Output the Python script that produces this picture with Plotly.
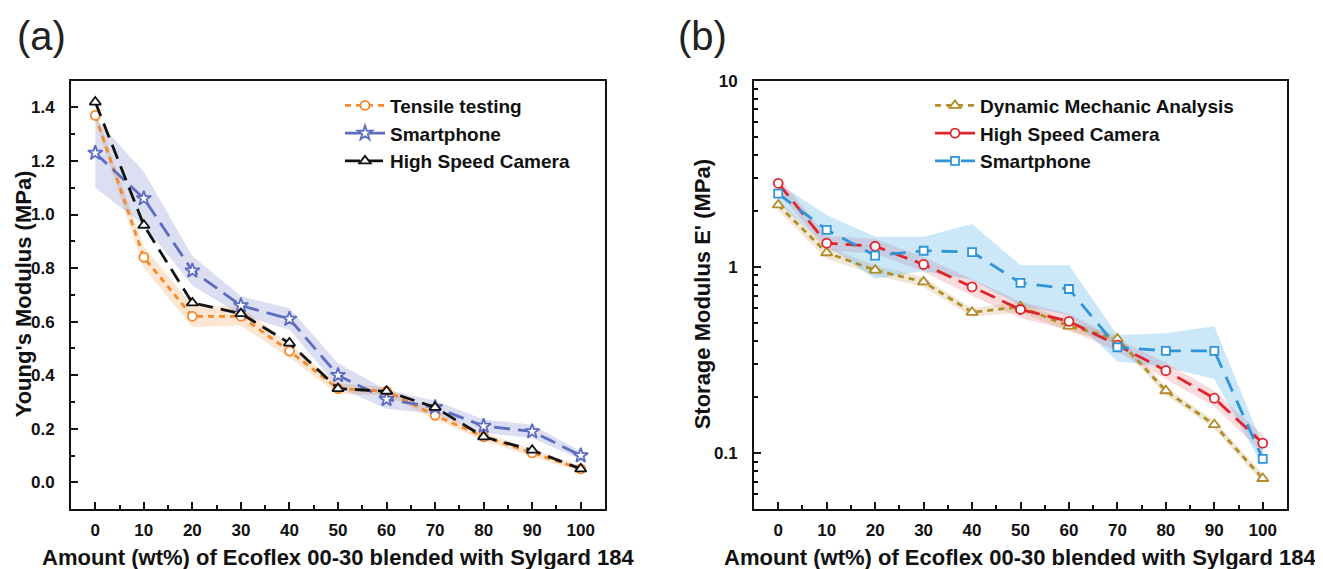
import plotly.graph_objects as go

# ---------------- data ----------------
x_wt = [0, 10, 20, 30, 40, 50, 60, 70, 80, 90, 100]

# panel (a) Young's modulus (MPa)
tensile = [1.37, 0.84, 0.62, 0.62, 0.49, 0.35, 0.34, 0.25, 0.17, 0.11, 0.05]
tensile_err = [0.02, 0.04, 0.04, 0.035, 0.025, 0.02, 0.015, 0.015, 0.015, 0.015, 0.01]
phone_a = [1.23, 1.06, 0.79, 0.66, 0.61, 0.40, 0.31, 0.28, 0.21, 0.19, 0.10]
phone_a_err = [0.13, 0.10, 0.055, 0.035, 0.04, 0.045, 0.035, 0.025, 0.025, 0.025, 0.015]
hsc_a = [1.42, 0.96, 0.67, 0.63, 0.52, 0.35, 0.34, 0.28, 0.17, 0.12, 0.05]

# panel (b) storage modulus E' (MPa)
dma = [2.15, 1.19, 0.96, 0.83, 0.57, 0.61, 0.48, 0.41, 0.216, 0.142, 0.073]
dma_lo = [2.0, 1.10, 0.90, 0.78, 0.54, 0.57, 0.45, 0.39, 0.205, 0.135, 0.069]
dma_hi = [2.30, 1.28, 1.02, 0.88, 0.60, 0.65, 0.51, 0.43, 0.227, 0.149, 0.077]
hsc_b = [2.81, 1.34, 1.29, 1.03, 0.78, 0.59, 0.51, 0.38, 0.277, 0.197, 0.113]
hsc_b_lo = [2.55, 1.22, 1.18, 0.94, 0.70, 0.53, 0.46, 0.35, 0.25, 0.178, 0.100]
hsc_b_hi = [3.05, 1.47, 1.41, 1.13, 0.86, 0.65, 0.56, 0.41, 0.305, 0.216, 0.125]
phone_b = [2.47, 1.58, 1.15, 1.22, 1.20, 0.82, 0.76, 0.37, 0.354, 0.354, 0.093]
phone_b_lo = [2.20, 1.30, 0.86, 0.95, 0.85, 0.62, 0.55, 0.31, 0.29, 0.25, 0.085]
phone_b_hi = [2.80, 1.90, 1.45, 1.45, 1.70, 1.02, 1.02, 0.43, 0.44, 0.48, 0.11]

x_ticks = [0, 10, 20, 30, 40, 50, 60, 70, 80, 90, 100]
ya_ticks = [0.0, 0.2, 0.4, 0.6, 0.8, 1.0, 1.2, 1.4]
yb_ticks = [0.1, 1, 10]
yb_text = ["0.1", "1", "10"]

# ---------------- styles ----------------
FONT = "Arial, Liberation Sans, sans-serif"
W, H = 1323, 569


def px(x):
    return (x - 8) / W


def py(y):
    fy = (y - 12) / 0.99
    return (H - fy) / H


C_TEN = "#f38a2c"
C_PHA = "#5d6cc0"
C_BLK = "#111111"
C_DMA = "#b38b2a"
C_HSC = "#e0242c"
C_PHB = "#2f95d8"

fig = go.Figure()


def band(x, lo, hi, color, xa, ya):
    fig.add_trace(go.Scatter(
        x=list(x) + list(x)[::-1], y=list(hi) + list(lo)[::-1],
        fill="toself", fillcolor=color, line=dict(width=0),
        mode="lines", hoverinfo="skip", showlegend=False, xaxis=xa, yaxis=ya))


def series(x, y, name, color, dash, symbol, xa, ya, legend, msize=9):
    fig.add_trace(go.Scatter(
        x=x, y=y, name=name, mode="lines+markers",
        line=dict(color=color, width=2.8, dash=dash),
        marker=dict(symbol=symbol, size=msize, color="white",
                    line=dict(color=color, width=1.8)),
        xaxis=xa, yaxis=ya, legend=legend))


# panel (a) bands
band(x_wt, [v - e for v, e in zip(tensile, tensile_err)],
     [v + e for v, e in zip(tensile, tensile_err)], "rgba(243,140,50,0.22)", "x", "y")
band(x_wt, [v - e for v, e in zip(phone_a, phone_a_err)],
     [v + e for v, e in zip(phone_a, phone_a_err)], "rgba(93,108,192,0.22)", "x", "y")
series(x_wt, tensile, "Tensile testing", C_TEN, "6px,5px", "circle", "x", "y", "legend")
series(x_wt, phone_a, "Smartphone", C_PHA, "16px,8px", "star", "x", "y", "legend", 11)
series(x_wt, hsc_a, "High Speed Camera", C_BLK, "15px,8px", "triangle-up", "x", "y", "legend", 10)

# panel (b) bands
band(x_wt, dma_lo, dma_hi, "rgba(180,140,45,0.20)", "x2", "y2")
band(x_wt, hsc_b_lo, hsc_b_hi, "rgba(230,60,70,0.18)", "x2", "y2")
band(x_wt, phone_b_lo, phone_b_hi, "rgba(70,170,230,0.28)", "x2", "y2")
series(x_wt, dma, "Dynamic Mechanic Analysis", C_DMA, "6px,5px", "triangle-up", "x2", "y2", "legend2", 10)
series(x_wt, hsc_b, "High Speed Camera", C_HSC, "16px,8px", "circle", "x2", "y2", "legend2")
series(x_wt, phone_b, "Smartphone", C_PHB, "16px,10px", "square", "x2", "y2", "legend2", 8)

tickfont = dict(family=FONT, size=17, color="#111", weight="bold")
axis_common = dict(showline=True, linewidth=2, linecolor="#111", mirror=True,
                   ticks="inside", ticklen=7, tickwidth=2, tickcolor="#111",
                   showgrid=False, zeroline=False, tickfont=tickfont)
minor_common = dict(ticks="inside", ticklen=4, tickwidth=2, tickcolor="#111")

xa_dom = [px(71), px(605)]
xb_dom = [px(754), px(1287)]
y_dom = [py(507), py(76)]

legend_font = dict(family=FONT, size=19, color="#111", weight="bold")

fig.update_layout(
    width=W, height=H, margin=dict(l=0, r=0, t=0, b=0),
    paper_bgcolor="white", plot_bgcolor="white",
    font=dict(family=FONT, color="#111"),
    xaxis=dict(domain=xa_dom, range=[-5, 105], tickvals=x_ticks, anchor="y",
               ticklabelstandoff=5, minor=dict(dtick=5, tick0=0, **minor_common),
               **axis_common),
    yaxis=dict(domain=y_dom, range=[-0.1, 1.5], tickvals=ya_ticks, tickformat=".1f", anchor="x",
               ticklabelstandoff=11, minor=dict(dtick=0.1, tick0=0, **minor_common),
               **axis_common),
    xaxis2=dict(domain=xb_dom, range=[-5, 105], tickvals=x_ticks, anchor="y2",
                ticklabelstandoff=5, minor=dict(dtick=5, tick0=0, **minor_common),
                **axis_common),
    yaxis2=dict(domain=y_dom, type="log", range=[-1.301, 1], tickvals=yb_ticks, ticktext=yb_text,
                anchor="x2", ticklabelstandoff=11, minor=dict(dtick="D1", **minor_common),
                **axis_common),
    legend=dict(x=px(340), y=py(82), xanchor="left", yanchor="top",
                bgcolor="rgba(0,0,0,0)", font=legend_font, tracegroupgap=0, itemwidth=40),
    legend2=dict(x=px(930), y=py(82), xanchor="left", yanchor="top",
                 bgcolor="rgba(0,0,0,0)", font=legend_font, tracegroupgap=0, itemwidth=40),
    showlegend=True,
)

title_font = dict(family=FONT, size=22, color="#111", weight="bold")
xtitle = "Amount (wt%) of Ecoflex 00-30 blended with Sylgard 184"
ann = [
    dict(text=xtitle, x=px(338), y=py(556), showarrow=False, font=title_font,
         xanchor="center", yanchor="middle"),
    dict(text=xtitle, x=px(1020), y=py(556), showarrow=False, font=title_font,
         xanchor="center", yanchor="middle"),
    dict(text="Young's Modulus (MPa)", x=px(23), y=py(291), showarrow=False, textangle=-90,
         font=title_font, xanchor="center", yanchor="middle"),
    dict(text="Storage Modulus E' (MPa)", x=px(702), y=py(291), showarrow=False, textangle=-90,
         font=title_font, xanchor="center", yanchor="middle"),
    dict(text="(a)", x=px(41), y=py(31), showarrow=False,
         font=dict(family=FONT, size=40, color="#222"), xanchor="center", yanchor="middle"),
    dict(text="(b)", x=px(702), y=py(31), showarrow=False,
         font=dict(family=FONT, size=40, color="#222"), xanchor="center", yanchor="middle"),
]
for a in ann:
    a.update(xref="paper", yref="paper")
fig.update_layout(annotations=ann)

fig.write_html("out.html")
